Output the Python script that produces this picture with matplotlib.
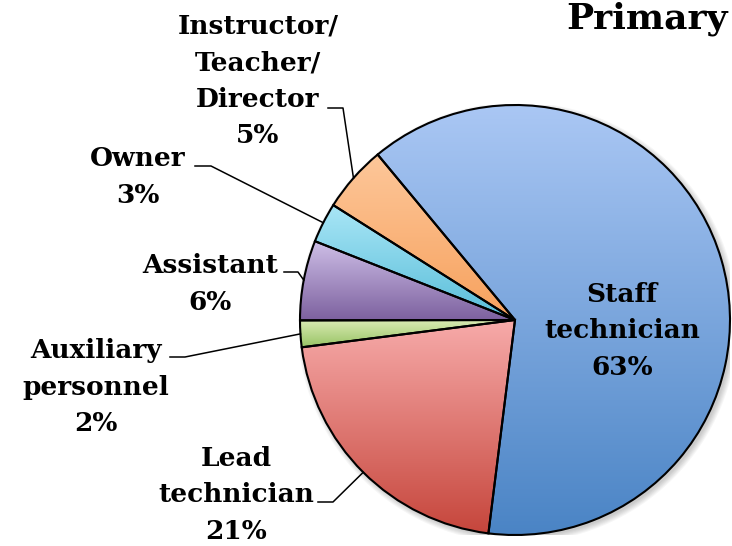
import matplotlib.pyplot as plt
import numpy as np
from matplotlib.colors import LinearSegmentedColormap
from matplotlib.patches import Circle

# slices in clockwise order, starting from the upper left edge of "Staff technician"
labels = ["Staff\ntechnician", "Lead\ntechnician", "Auxiliary\npersonnel",
          "Assistant", "Owner", "Instructor/\nTeacher/\nDirector"]
shares = [63, 21, 2, 6, 3, 5]
top_colors = ["#aac7f4", "#f7abaa", "#dcecb6", "#cfc0e8", "#a9e6f6", "#fdc79a"]
bottom_colors = ["#4a84c5", "#c6463c", "#98c465", "#7d619f", "#58bdd9", "#f7a15d"]

W, H = 732, 546
CX, CY, R = 515, 320, 215


def px(x, y):
    """pixel position in the picture -> pie data coordinates"""
    return (x - CX) / R, (CY - y) / R


# label centres and the short horizontal piece of each leader line (pixels)
label_pos = [(622, 331), (236, 495), (96, 387), (210, 284), (138, 177), (258, 81)]
leader_h = [None, ((318, 502), (333, 502)), ((170, 357), (185, 357)),
            ((284, 272), (298, 272)), ((195, 166), (211, 166)),
            ((328, 108), (343, 108))]

font = dict(family="DejaVu Serif", fontweight="bold", fontsize=19)

fig = plt.figure(figsize=(W / 100, H / 100), dpi=100)
ax = fig.add_axes([(CX - R) / W, (H - CY - R) / H, 2 * R / W, 2 * R / H])

wedges, _ = ax.pie(shares, startangle=129.7, counterclock=False, radius=1,
                   wedgeprops=dict(edgecolor="black", linewidth=1.5))

# soft shadow to the lower right
for i in range(6):
    ax.add_patch(Circle((0.012, -0.012), 1 + 0.005 * i, color="black",
                        alpha=0.035, zorder=0, lw=0))

grad = np.linspace(0, 1, 256).reshape(-1, 1)
for w, c0, c1 in zip(wedges, top_colors, bottom_colors):
    w.set_facecolor("none")
    w.set_zorder(3)
    ext = w.get_path().get_extents()
    cmap = LinearSegmentedColormap.from_list("g", [c1, c0])
    im = ax.imshow(grad, cmap=cmap, origin="lower", aspect="auto",
                   extent=[ext.x0, ext.x1, ext.y0, ext.y1], zorder=2,
                   interpolation="bilinear")
    im.set_clip_path(w)

for w, lab, share, pos, hl in zip(wedges, labels, shares, label_pos, leader_h):
    tx, ty = px(*pos)
    ax.text(tx, ty, f"{lab}\n{share}%", ha="center", va="center",
            linespacing=1.58, zorder=5, **font)
    if hl is None:
        continue
    mid = np.deg2rad((w.theta1 + w.theta2) / 2)
    (x0, y0), (x1, y1) = px(*hl[0]), px(*hl[1])
    ax.plot([x0, x1, np.cos(mid)], [y0, y1, np.sin(mid)], color="black",
            lw=1.1, clip_on=False, zorder=4)

fig.text(566 / W, 1 - 29 / H, "Primary", ha="left", va="baseline",
         family="DejaVu Serif", fontweight="bold", fontsize=26)

ax.set_xlim(-1, 1)
ax.set_ylim(-1, 1)
ax.set_aspect("equal")
ax.axis("off")

fig.savefig("out.png", dpi=100)
